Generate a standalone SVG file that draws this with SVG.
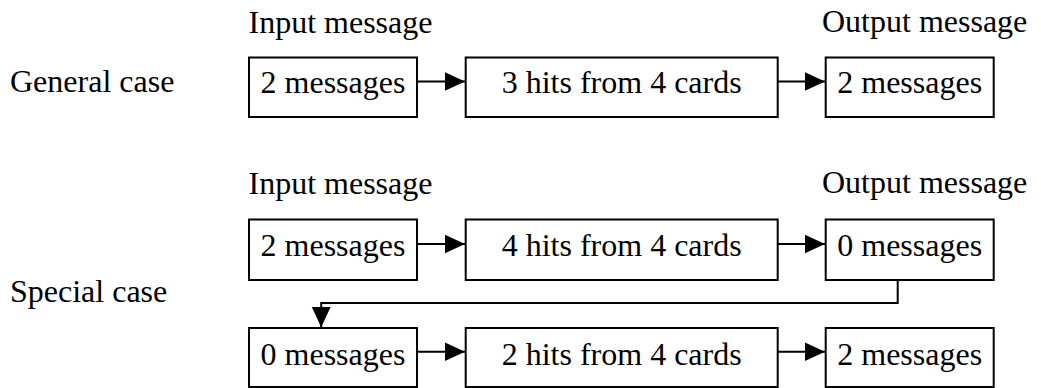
<svg xmlns="http://www.w3.org/2000/svg" width="1041" height="388" viewBox="0 0 1041 388">
  <style>
    .box { fill: #ffffff; stroke: #000000; stroke-width: 2; }
    .lbl { font-family: "Liberation Serif", "Times New Roman", serif; font-size: 32px; fill: #000000; }
    .mid { text-anchor: middle; }
    .wire { fill: none; stroke: #000000; stroke-width: 2; marker-end: url(#head); }
  </style>
  <defs>
    <marker id="head" markerUnits="userSpaceOnUse" markerWidth="21" markerHeight="20" refX="20.5" refY="9.5" orient="auto">
      <path d="M0,0 L20.5,9.5 L0,19 Z" fill="#000000"/>
    </marker>
  </defs>

  <!-- row captions -->
  <g id="captions">
    <text class="lbl" x="10" y="92">General case</text>
    <text class="lbl" x="10" y="301.5">Special case</text>
    <text class="lbl" x="248.5" y="33">Input message</text>
    <text class="lbl" x="822" y="32">Output message</text>
    <text class="lbl" x="248.5" y="193.5">Input message</text>
    <text class="lbl" x="822" y="193">Output message</text>
  </g>

  <!-- general case -->
  <g id="g-in">
    <rect class="box" x="249" y="57.5" width="168" height="59.5"/>
    <text class="lbl mid" x="333" y="93">2 messages</text>
  </g>
  <g id="g-hits">
    <rect class="box" x="465.7" y="57.5" width="312" height="59.5"/>
    <text class="lbl mid" x="621.7" y="93">3 hits from 4 cards</text>
  </g>
  <g id="g-out">
    <rect class="box" x="825.7" y="57.5" width="168" height="59.5"/>
    <text class="lbl mid" x="909.7" y="93">2 messages</text>
  </g>

  <!-- special case, first pass -->
  <g id="s1-in">
    <rect class="box" x="249" y="219.5" width="168" height="60.5"/>
    <text class="lbl mid" x="333" y="255.5">2 messages</text>
  </g>
  <g id="s1-hits">
    <rect class="box" x="465.7" y="219.5" width="312" height="60.5"/>
    <text class="lbl mid" x="621.7" y="255.5">4 hits from 4 cards</text>
  </g>
  <g id="s1-out">
    <rect class="box" x="825.7" y="219.5" width="168" height="60.5"/>
    <text class="lbl mid" x="909.7" y="255.5">0 messages</text>
  </g>

  <!-- special case, second pass -->
  <g id="s2-in">
    <rect class="box" x="249" y="328" width="168" height="59"/>
    <text class="lbl mid" x="333" y="364.5">0 messages</text>
  </g>
  <g id="s2-hits">
    <rect class="box" x="465.7" y="328" width="312" height="59"/>
    <text class="lbl mid" x="621.7" y="364.5">2 hits from 4 cards</text>
  </g>
  <g id="s2-out">
    <rect class="box" x="825.7" y="328" width="168" height="59"/>
    <text class="lbl mid" x="909.7" y="364.5">2 messages</text>
  </g>

  <!-- connectors -->
  <g id="connectors">
    <line class="wire" x1="417" y1="81.5" x2="465" y2="81.5"/>
    <line class="wire" x1="777.7" y1="81.5" x2="825" y2="81.5"/>
    <line class="wire" x1="417" y1="244" x2="465" y2="244"/>
    <line class="wire" x1="777.7" y1="244" x2="825" y2="244"/>
    <path class="wire" d="M897.7,280 V303 H321.2 V327.3"/>
    <line class="wire" x1="417" y1="351.7" x2="465" y2="351.7"/>
    <line class="wire" x1="777.7" y1="351.7" x2="825" y2="351.7"/>
  </g>
</svg>
